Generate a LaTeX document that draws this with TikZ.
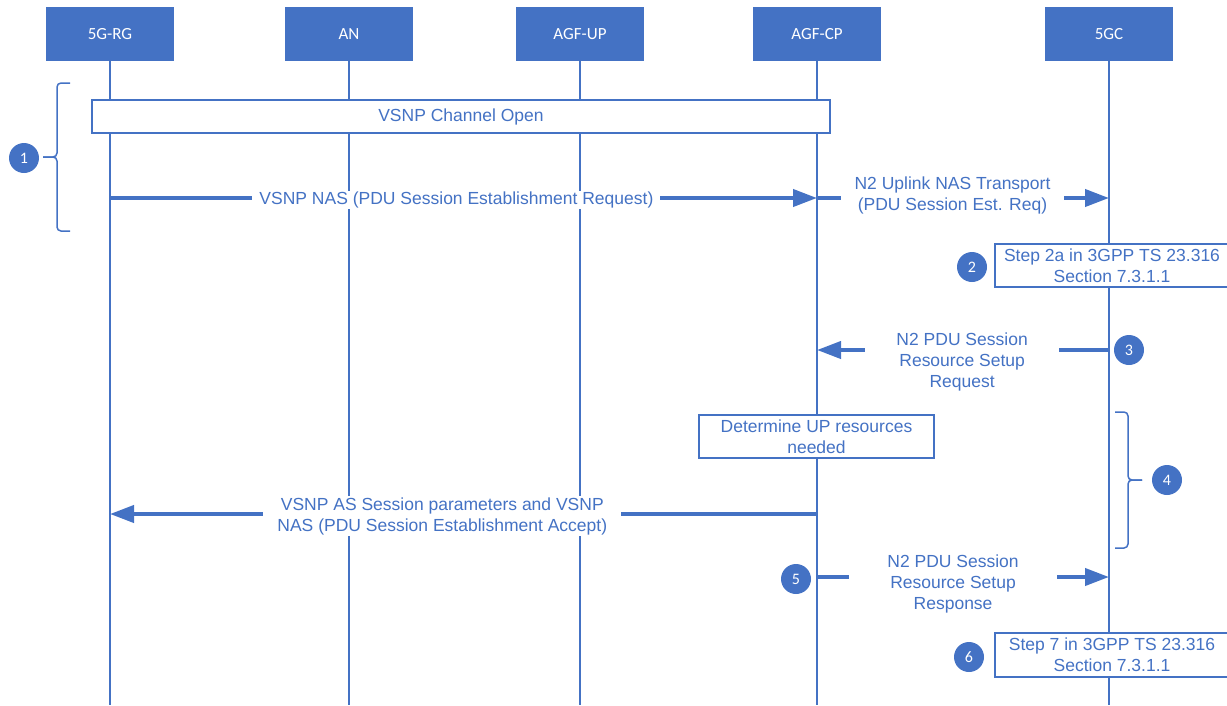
\documentclass[tikz,border=0pt]{standalone}
\usepackage{fontspec}
\setmainfont{Liberation Sans}
\newfontfamily\hdrfont{Carlito}
\usepackage{tikz}
\usetikzlibrary{arrows.meta,positioning}
\definecolor{ofblue}{HTML}{4472C4}

\begin{document}
\begin{tikzpicture}[
  x=1pt, y=-1pt,
  actor/.style={rectangle, fill=ofblue, text=white, minimum width=128pt,
    minimum height=54pt, inner sep=0pt, font=\hdrfont\fontsize{17}{20}\selectfont},
  life/.style={ofblue, line width=2pt},
  msg/.style={ofblue, line width=4pt, -{Triangle[length=24pt,width=17pt]}},
  lbl/.style={fill=white, text=ofblue, align=center, inner ysep=1pt, yshift=-2pt,
    font=\fontsize{17.5}{21}\selectfont},
  note/.style={rectangle, draw=ofblue, line width=2pt, fill=white, text=ofblue,
    align=center, inner sep=0pt, font=\fontsize{17.5}{21}\selectfont},
  stepdot/.style={circle, fill=ofblue, text=white, minimum size=30pt, inner sep=0pt,
    font=\hdrfont\fontsize{16}{18}\selectfont},
  brk/.style={ofblue, line width=1.5pt, rounded corners=4pt}
]
\useasboundingbox (0,0) rectangle (1227,705);

% Actors
\node[actor] (rg) at (110,34) {5G-RG};
\node[actor] (an) at (349,34) {AN};
\node[actor] (agfup) at (580,34) {AGF-UP};
\node[actor] (agfcp) at (817,34) {AGF-CP};
\node[actor] (core) at (1109,34) {5GC};

% Lifelines
\coordinate (bot) at (0,705);
\draw[life] (rg) -- (rg |- bot);
\draw[life] (an) -- (an |- bot);
\draw[life] (agfup) -- (agfup |- bot);
\draw[life] (agfcp) -- (agfcp |- bot);
\draw[life] (core) -- (core |- bot);

% Notes
\node[note, minimum width=738pt, minimum height=33pt] (chan) at (461,116.5) {VSNP Channel Open};
\node[note, minimum width=234pt, minimum height=43pt] (step2a) at (1112,265.5) {Step 2a in 3GPP TS 23.316\\Section 7.3.1.1};
\node[note, minimum width=235pt, minimum height=43pt] (detup) at (816.5,436.5) {Determine UP resources\\needed};
\node[note, minimum width=234pt, minimum height=44pt] (step7) at (1112,655) {Step 7 in 3GPP TS 23.316\\Section 7.3.1.1};

% Step markers
\node[stepdot] (s1) at (24,158) {1};
\node[stepdot] (s2) at (972,267) {2};
\node[stepdot] (s3) at (1129,350) {3};
\node[stepdot] (s4) at (1167,480) {4};
\node[stepdot] (s5) at (796,579) {5};
\node[stepdot] (s6) at (969,657) {6};

% Brackets
\draw[brk] (70,83) -- (57,83) -- (57,157) -- (43,157);
\draw[brk] (43,157) -- (57,157) -- (57,231) -- (70,231);
\draw[brk] (1115,412) -- (1128,412) -- (1128,480) -- (1142,480);
\draw[brk] (1142,480) -- (1128,480) -- (1128,548) -- (1115,548);

% Messages
\coordinate (m1) at (0,198);
\coordinate (m3) at (0,350);
\coordinate (m4) at (0,514);
\coordinate (m5) at (0,577);
\draw[msg] (rg |- m1) -- node[lbl, pos=0.49, inner xsep=7pt]{VSNP NAS (PDU Session Establishment Request)} (agfcp |- m1);
\draw[msg] (agfcp |- m1) -- node[lbl, pos=0.464, inner xsep=14pt, yshift=5pt]{N2 Uplink NAS Transport\\(PDU Session Est. Req)} (core |- m1);
\draw[msg] (core |- m3) -- node[lbl, pos=0.503, inner xsep=31pt, yshift=-10pt]{N2 PDU Session\\Resource Setup\\Request} (agfcp |- m3);
\draw[msg] (agfcp |- m4) -- node[lbl, pos=0.53, inner xsep=14pt]{VSNP AS Session parameters and VSNP\\NAS (PDU Session Establishment Accept)} (rg |- m4);
\draw[msg] (agfcp |- m5) -- node[lbl, pos=0.466, inner xsep=38pt, yshift=-5pt]{N2 PDU Session\\Resource Setup\\Response} (core |- m5);

\end{tikzpicture}
\end{document}
